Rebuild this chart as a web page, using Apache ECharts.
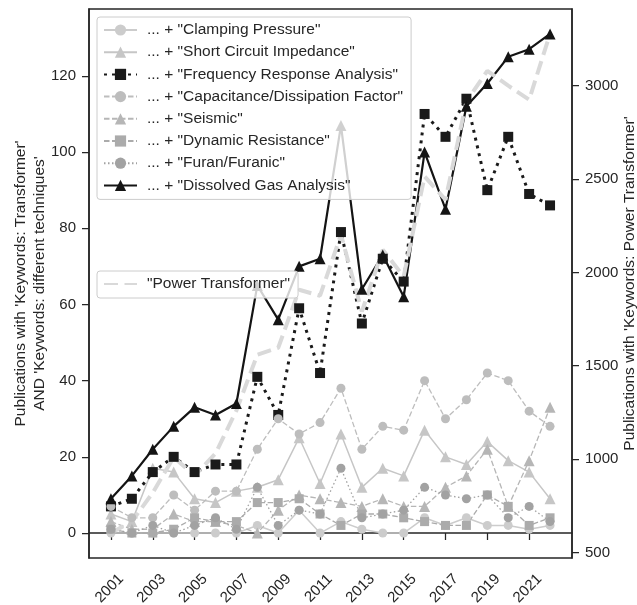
<!DOCTYPE html>
<html>
<head>
<meta charset="utf-8">
<script src="https://cdn.jsdelivr.net/npm/echarts@6/dist/echarts.min.js"></script>
<style>
html, body { margin: 0; padding: 0; background: #fff; }
#draw { width: 637px; height: 605px; }
</style>
</head>
<body>
<div id="draw"></div>
<script>
// values
var years = [2001, 2002, 2003, 2004, 2005, 2006, 2007, 2008, 2009, 2010, 2011,
	2012, 2013, 2014, 2015, 2016, 2017, 2018, 2019, 2020, 2021, 2022];
var clamping = [0, 0, 0, 0, 0, 0, 0, 2, 0, 6, 0, 3, 1, 0, 0, 4, 2, 4, 2, 2, 1, 2];
var shortCircuit = [5, 3, 17, 16, 9, 8, 11, 12, 14, 25, 13, 26, 12, 17, 15, 27, 20, 18, 24, 19, 16, 9];
var fra = [7, 9, 16, 20, 16, 18, 18, 41, 31, 59, 42, 79, 55, 72, 66, 110, 104, 114, 90, 104, 89, 86];
var capacitance = [7, 4, 4, 10, 6, 11, 11, 22, 30, 26, 29, 38, 22, 28, 27, 40, 30, 35, 42, 40, 32, 28];
var seismic = [3, 1, 1, 5, 3, 3, 2, 0, 6, 10, 9, 8, 7, 9, 7, 7, 12, 15, 22, 7, 19, 33];
var dynamicRes = [1, 0, 0, 1, 4, 3, 3, 8, 8, 9, 5, 2, 5, 5, 4, 3, 2, 2, 10, 7, 2, 4];
var furan = [1, 0, 2, 0, 2, 4, 1, 12, 2, 6, 5, 17, 4, 5, 6, 12, 10, 9, 10, 4, 7, 3];
var dga = [9, 15, 22, 28, 33, 31, 34, 65, 56, 70, 72, 107, 64, 73, 62, 100, 85, 112, 118, 125, 127, 131];
var powerTransformer = [604, 666, 820, 1010, 912, 1030, 1260, 1559, 1596, 1907, 1875, 2202,
	1790, 2121, 1978, 2514, 2389, 2916, 3080, 3000, 2925, 3278];

var xTicks = [2001, 2003, 2005, 2007, 2009, 2011, 2013, 2015, 2017, 2019, 2021];
var leftTicks = [0, 20, 40, 60, 80, 100, 120];
var rightTicks = [500, 1000, 1500, 2000, 2500, 3000];

var font = 'Liberation Sans, Arial, sans-serif';
var ink = '#262626';

var pairs = function(vals) {
	return years.map(function(y, i) {
		return [y, vals[i]];
	});
};

var plain = function(v) {
	return String(v);
};

var mk = function(name, vals, color, symbol, size, width, type) {
	return {
		name : name,
		type : 'line',
		data : pairs(vals),
		symbol : symbol,
		symbolSize : size,
		showSymbol : true,
		animation : false,
		itemStyle : { color : color, borderWidth : 0 },
		lineStyle : { color : color, width : width, type : type }
	};
};

var names = [
	'... + "Clamping Pressure"',
	'... + "Short Circuit Impedance"',
	'... + "Frequency Response Analysis"',
	'... + "Capacitance/Dissipation Factor"',
	'... + "Seismic"',
	'... + "Dynamic Resistance"',
	'... + "Furan/Furanic"',
	'... + "Dissolved Gas Analysis"'
];
var ptName = '"Power Transformer"';

var series = [
	mk(names[0], clamping, '#cccccc', 'circle', 9, 1.5, 'solid'),
	mk(names[1], shortCircuit, '#c6c6c6', 'triangle', 11, 1.5, 'solid'),
	mk(names[2], fra, '#1a1a1a', 'rect', 10, 3, [3, 5]),
	mk(names[3], capacitance, '#bdbdbd', 'circle', 9, 1.3, [5.5, 2.5]),
	mk(names[4], seismic, '#b6b6b6', 'triangle', 11, 1.3, [5.5, 2.5]),
	mk(names[5], dynamicRes, '#ababab', 'rect', 9, 1.3, [5.5, 2.5]),
	mk(names[6], furan, '#a2a2a2', 'circle', 9, 1.3, [1.5, 2.5]),
	mk(names[7], dga, '#141414', 'triangle', 11, 2.2, 'solid')
];
var pt = mk(ptName, powerTransformer, '#d9d9d9', 'none', 0, 4, [14, 6.5]);
pt.yAxisIndex = 1;
pt.showSymbol = false;
pt.z = 3;
series.push(pt);

var legendBox = {
	orient : 'vertical',
	left : 97,
	itemWidth : 33,
	itemHeight : 14,
	itemGap : 6.2,
	padding : [5, 8, 6, 6],
	backgroundColor : 'rgba(255,255,255,0.8)',
	borderColor : '#cccccc',
	borderWidth : 1,
	borderRadius : 3,
	textStyle : {
		fontFamily : font,
		fontSize : 15.5,
		color : ink,
		lineHeight : 16,
		padding : [0, 0, 0, 5]
	}
};

var myChart = echarts.init(document.getElementById('draw'), null, { renderer : 'canvas' });
var option = {
	backgroundColor : '#ffffff',
	animation : false,
	grid : {
		left : 89,
		right : 65,
		top : 9,
		bottom : 47,
		containLabel : false,
		outerBoundsMode : 'none',
		show : true,
		borderColor : ink,
		borderWidth : 1.5,
		backgroundColor : 'transparent'
	},
	legend : [
		echarts.util.merge({ top : 17, data : names }, legendBox, true),
		echarts.util.merge({ top : 271, data : [ { name : ptName, itemStyle : { opacity : 0 } } ] }, legendBox, true)
	],
	xAxis : {
		type : 'value',
		min : 1999.95,
		max : 2023.05,
		splitLine : { show : false },
		axisLine : { show : true, lineStyle : { color : ink, width : 1.5 } },
		axisTick : { show : true, length : 7, customValues : xTicks, lineStyle : { color : ink, width : 1.25 } },
		axisLabel : {
			customValues : xTicks,
			rotate : 45,
			align : 'center',
			verticalAlign : 'middle',
			margin : 29,
			padding : [0, 4, 0, 0],
			fontFamily : font,
			fontSize : 15,
			color : ink,
			formatter : plain
		}
	},
	yAxis : [ {
		type : 'value',
		min : -6.55,
		max : 137.55,
		position : 'left',
		splitLine : { show : false },
		axisLine : { show : true, lineStyle : { color : ink, width : 1.5 } },
		axisTick : { show : true, length : 7, customValues : leftTicks, lineStyle : { color : ink, width : 1.25 } },
		axisLabel : { customValues : leftTicks, margin : 13, fontFamily : font, fontSize : 15, color : ink, formatter : plain },
		name : "Publications with 'Keywords: Transformer'\nAND 'Keywords: different techniques'",
		nameLocation : 'middle',
		nameRotate : 90,
		nameGap : 40,
		nameMoveOverlap : false,
		nameTextStyle : { fontFamily : font, fontSize : 15.5, color : ink, lineHeight : 19, align : 'center' }
	}, {
		type : 'value',
		min : 470,
		max : 3410.8,
		position : 'right',
		splitLine : { show : false },
		axisLine : { show : true, lineStyle : { color : ink, width : 1.5 } },
		axisTick : { show : true, length : 7, customValues : rightTicks, lineStyle : { color : ink, width : 1.25 } },
		axisLabel : { customValues : rightTicks, margin : 13, fontFamily : font, fontSize : 15, color : ink, formatter : plain },
		name : "Publications with 'Keywords: Power Transformer'",
		nameLocation : 'middle',
		nameRotate : 90,
		nameGap : 50,
		nameMoveOverlap : false,
		nameTextStyle : { fontFamily : font, fontSize : 15.5, color : ink }
	} ],
	series : series
};
myChart.setOption(option);
</script>
</body>
</html>
